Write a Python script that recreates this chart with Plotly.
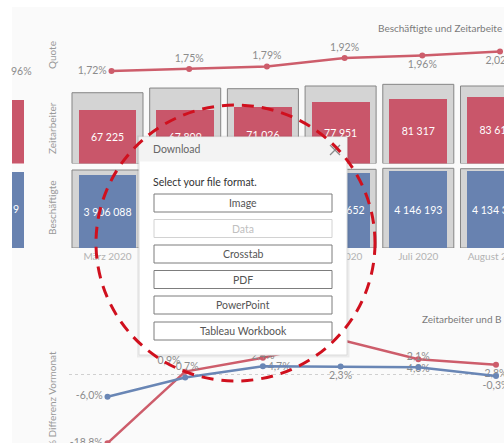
import plotly.graph_objects as go

W, H = 504, 443

# ---------------- data ----------------
months = ["März 2020", "April 2020", "Mai 2020", "Juni 2020", "Juli 2020", "August 2020"]
quote = [1.72, 1.75, 1.79, 1.92, 1.96, 2.02]
zeitarbeiter = [67225, 67809, 71026, 77951, 81317, 83612]
zeitarbeiter_ref = [89600, 95500, 94700, 98100, 100200, 98100]
beschaeftigte = [3906088, 3878745, 3969357, 4060652, 4146193, 4134321]
beschaeftigte_ref = [4200000, 4210000, 4220000, 4238000, 4292000, 4270000]
diff_zeitarbeiter = [-18.8, 0.9, 4.7, 9.7, 4.3, 2.8]
diff_beschaeftigte = [-6.0, -0.7, 2.4, 2.3, 2.1, -0.3]
left_zeit = [80400]
left_besch = [4090000]

RED = "#c9566a"
BLUE = "#6882b0"
RED_LINE = "#cd5d6b"
BLUE_LINE = "#6986b5"
LABEL = "#8c8c8c"
FONT = "Lato"


def px(x):
    return x / W


def py(y):
    return 1 - y / H


def pct(v, d):
    return (f"{v:.{d}f}%").replace(".", ",")


def num(v):
    return f"{v:,}".replace(",", " ")


fig = go.Figure()

# Quote line
fig.add_trace(go.Scatter(
    x=months, y=quote, xaxis="x", yaxis="y", mode="lines+markers+text",
    line=dict(color=RED_LINE, width=2.5), marker=dict(size=6, color=RED_LINE),
    text=[pct(v, 2) for v in quote],
    textposition=["middle left", "top center", "top center", "top center", "bottom center", "bottom center"],
    textfont=dict(size=10.5, color=LABEL, family=FONT), cliponaxis=True, hoverinfo="skip"))

# Zeitarbeiter bars
fig.add_trace(go.Bar(
    x=months, y=zeitarbeiter_ref, xaxis="x2", yaxis="y2", width=0.914,
    marker=dict(color="#d4d4d4", line=dict(color="#858585", width=1)), hoverinfo="skip"))
fig.add_trace(go.Bar(
    x=months, y=zeitarbeiter, xaxis="x2", yaxis="y2", width=0.746,
    marker=dict(color=RED, line=dict(width=0)), text=[num(v) for v in zeitarbeiter],
    textposition="inside", insidetextanchor="middle", constraintext="none",
    textfont=dict(size=10.5, color="white", family=FONT), hoverinfo="skip"))

# Beschäftigte bars
fig.add_trace(go.Bar(
    x=months, y=beschaeftigte_ref, xaxis="x3", yaxis="y3", width=0.914,
    marker=dict(color="#d4d4d4", line=dict(color="#858585", width=1)), hoverinfo="skip"))
fig.add_trace(go.Bar(
    x=months, y=beschaeftigte, xaxis="x3", yaxis="y3", width=0.746,
    marker=dict(color=BLUE, line=dict(width=0)), text=[num(v) for v in beschaeftigte],
    textposition="inside", insidetextanchor="middle", constraintext="none",
    textfont=dict(size=10.5, color="white", family=FONT), hoverinfo="skip"))

# Month labels (clipped at the right edge like the reference)
fig.add_trace(go.Scatter(
    x=months, y=[0] * len(months), xaxis="x6", yaxis="y6", mode="text", text=months,
    textposition="middle center", textfont=dict(size=10, color="#b3b3b3", family=FONT),
    cliponaxis=True, hoverinfo="skip"))

# Left partial column
fig.add_trace(go.Bar(x=[0], y=left_zeit, xaxis="x5", yaxis="y2", width=1,
                     marker=dict(color=RED, line=dict(width=0)), hoverinfo="skip"))
fig.add_trace(go.Bar(x=[0], y=left_besch, xaxis="x5", yaxis="y3", width=1,
                     marker=dict(color=BLUE, line=dict(width=0)), hoverinfo="skip"))

# % Differenz Vormonat
fig.add_trace(go.Scatter(
    x=months, y=diff_zeitarbeiter, xaxis="x4", yaxis="y4", mode="lines+markers+text",
    line=dict(color=RED_LINE, width=2.5), marker=dict(size=6, color=RED_LINE),
    text=[pct(v, 1) for v in diff_zeitarbeiter],
    textposition=["middle left", "top left", "bottom right", "top left", "bottom center", "bottom center"],
    textfont=dict(size=10.5, color=LABEL, family=FONT), cliponaxis=True, hoverinfo="skip"))
fig.add_trace(go.Scatter(
    x=months, y=diff_beschaeftigte, xaxis="x4", yaxis="y4", mode="lines+markers+text",
    line=dict(color=BLUE_LINE, width=2.5), marker=dict(size=6, color=BLUE_LINE),
    text=[pct(v, 1) for v in diff_beschaeftigte],
    textposition=["middle left", "top center", "top center", "bottom center", "top center", "bottom center"],
    textfont=dict(size=10.5, color=LABEL, family=FONT), cliponaxis=True, hoverinfo="skip"))

# ---------------- axes ----------------
step = 77.7
x_left = 107.5 - step / 2
x_range = [-0.5, (W - x_left) / step - 0.5]
xdom = [px(x_left), 1]
xq_left = x_left + 4
xq_range = [-0.5, (W - xq_left) / step - 0.5]

hidden = dict(showgrid=False, zeroline=False, showticklabels=False, showline=False, ticks="", fixedrange=True)

layout_axes = dict(
    xaxis=dict(domain=[px(xq_left), 1], range=xq_range, type="category", anchor="y", **hidden),
    xaxis2=dict(domain=xdom, range=x_range, type="category", anchor="y2", **hidden),
    xaxis3=dict(domain=xdom, range=x_range, type="category", anchor="y3", **hidden),
    xaxis4=dict(domain=xdom, range=x_range, type="category", anchor="y4", **hidden),
    xaxis5=dict(domain=[px(12), px(24)], range=[-0.2, 0.3], anchor="y2", **hidden),
    xaxis6=dict(domain=xdom, range=x_range, type="category", anchor="y6", **hidden),
    yaxis=dict(domain=[py(87), py(35)], range=[1.474, 2.274], anchor="x", **hidden),
    yaxis2=dict(domain=[py(163.5), py(80)], range=[0, 83.5 / 0.00079], anchor="x2", **hidden),
    yaxis3=dict(domain=[py(248), py(166)], range=[0, 82 / 1.857e-5], anchor="x3", **hidden),
    yaxis6=dict(domain=[py(265), py(249)], range=[-1, 1], anchor="x6", **hidden),
    yaxis4=dict(domain=[0, py(325)], range=[-(443 - 374.9) / 3.63, (374.9 - 325) / 3.63], anchor="x4",
                showgrid=True, gridcolor="#d0d0d0", griddash="dot", gridwidth=1, tickvals=[0],
                zeroline=False, showticklabels=False, showline=False, ticks="", fixedrange=True),
)

# ---------------- decorations (dialog + circle) ----------------
shapes = [
    dict(type="rect", xref="paper", yref="paper", x0=px(12), x1=1, y0=0, y1=py(7),
         fillcolor="#fafafa", line=dict(width=0), layer="below"),
    dict(type="rect", xref="paper", yref="paper", x0=px(137), x1=px(349.5), y0=py(357.5), y1=py(135.5),
         fillcolor="rgba(0,0,0,0.06)", line=dict(width=0), layer="above"),
    dict(type="rect", xref="paper", yref="paper", x0=px(139), x1=px(347), y0=py(355), y1=py(137),
         fillcolor="white", line=dict(color="#dcdcdc", width=1), layer="above"),
    dict(type="rect", xref="paper", yref="paper", x0=px(139.5), x1=px(346.5), y0=py(161.5), y1=py(137.5),
         fillcolor="#f3f3f3", line=dict(width=0), layer="above"),
    dict(type="line", xref="paper", yref="paper", x0=px(330), x1=px(340), y0=py(145), y1=py(155),
         line=dict(color="#8a8a8a", width=1.2), layer="above"),
    dict(type="line", xref="paper", yref="paper", x0=px(330), x1=px(340), y0=py(155), y1=py(145),
         line=dict(color="#8a8a8a", width=1.2), layer="above"),
]
buttons = [("Image", 194, 212, False), ("Data", 219.5, 237.5, True), ("Crosstab", 245, 263, False),
           ("PDF", 270.5, 288.5, False), ("PowerPoint", 296, 314, False), ("Tableau Workbook", 322, 340, False)]
annotations = []
for label, t, b, disabled in buttons:
    shapes.append(dict(type="rect", xref="paper", yref="paper", x0=px(154), x1=px(332), y0=py(b), y1=py(t),
                       fillcolor="white", line=dict(color="#d2d2d2" if disabled else "#7d7d7d", width=1),
                       layer="above"))
    annotations.append(dict(x=px(243), y=py((t + b) / 2), xref="paper", yref="paper", text=label,
                            showarrow=False, xanchor="center", yanchor="middle",
                            font=dict(size=10.5, color="#c0c0c0" if disabled else "#555555", family=FONT)))
shapes.append(dict(type="circle", xref="paper", yref="paper", x0=px(96), x1=px(375), y0=py(381), y1=py(105),
                   line=dict(color="#d0101e", width=3, dash="12px,8px"), layer="above"))

annotations += [
    dict(x=px(151), y=py(149), text="Download", font=dict(size=10.5, color="#666666", family=FONT)),
    dict(x=px(151), y=py(182), text="Select your file format.", font=dict(size=10.5, color="#333333", family=FONT)),
    dict(x=1, y=py(28), xanchor="right", text="Beschäftigte und Zeitarbeite",
         font=dict(size=10, color="#7a7a7a", family=FONT)),
    dict(x=1, y=py(319), xanchor="right", text="Zeitarbeiter und B",
         font=dict(size=10, color="#7a7a7a", family=FONT)),
    dict(x=px(9), y=py(71), text="96%", font=dict(size=10.5, color=LABEL, family=FONT)),
    dict(x=px(11), y=py(209), text="9", font=dict(size=10.5, color="white", family=FONT)),
]
for a in annotations:
    a.setdefault("xref", "paper")
    a.setdefault("yref", "paper")
    a.setdefault("showarrow", False)
    a.setdefault("xanchor", "left")
    a.setdefault("yanchor", "middle")

for text, yc in [("Quote", 55), ("Zeitarbeiter", 128), ("Beschäftigte", 208), ("% Differenz Vormonat", 400)]:
    annotations.append(dict(x=px(52), y=py(yc), xref="paper", yref="paper", text=text, textangle=-90,
                            showarrow=False, xanchor="center", yanchor="middle",
                            font=dict(size=10, color="#999999", family=FONT)))

fig.update_layout(
    width=W, height=H, autosize=False, margin=dict(l=0, r=0, t=0, b=0),
    paper_bgcolor="white", plot_bgcolor="rgba(0,0,0,0)", showlegend=False,
    barmode="overlay", bargap=0, font=dict(family=FONT),
    shapes=shapes, annotations=annotations, **layout_axes)

clip_js = (
    "document.documentElement.style.margin='0';"
    "document.body.style.margin='0';document.body.style.overflow='hidden';"
    "document.documentElement.style.overflow='hidden';"
)

fig.write_html("out.html", config={"displayModeBar": False, "staticPlot": True},
               post_script=clip_js)
